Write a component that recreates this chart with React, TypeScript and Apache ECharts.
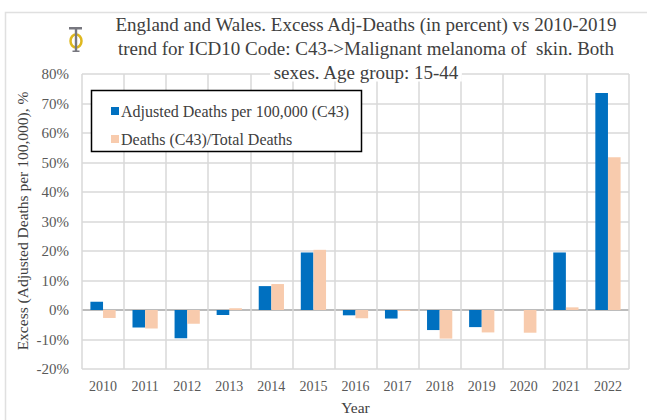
import React, { useEffect, useRef } from "react";
import * as echarts from "echarts";

const years = ["2010", "2011", "2012", "2013", "2014", "2015", "2016", "2017", "2018", "2019", "2020", "2021", "2022"];
const adjustedDeaths = [2.8, -5.9, -9.6, -1.7, 8.1, 19.5, -1.8, -2.9, -6.8, -5.8, 0, 19.5, 73.6];
const deathsRatio = [-2.7, -6.3, -4.7, 0.6, 8.8, 20.4, -2.8, -0.3, -9.7, -7.6, -7.7, 0.9, 51.8];
const seriesNames = ["Adjusted Deaths per 100,000 (C43)", "Deaths (C43)/Total Deaths"];
const titleLines = [
  "England and Wales. Excess Adj-Deaths (in percent) vs 2010-2019",
  "trend for ICD10 Code: C43->Malignant melanoma of  skin. Both",
  "sexes. Age group: 15-44",
];
const yAxisTitle = "Excess (Adjusted Deaths per 100,000), %";
const xAxisTitle = "Year";

const FONT = "Liberation Serif";

export default function App() {
  const ref = useRef<HTMLDivElement>(null);
  useEffect(() => {
    if (!ref.current) return;
    const chart = echarts.init(ref.current, null, { renderer: "svg" });
    const gridColors = ["#d9d9d9", "#d9d9d9", "#a6a6a6", "#d9d9d9", "#d9d9d9", "#d9d9d9", "#d9d9d9", "#d9d9d9", "#d9d9d9", "#d9d9d9", "#d9d9d9"];
    chart.setOption({
      animation: false,
      backgroundColor: "#ffffff",
      textStyle: { fontFamily: FONT },
      grid: { left: 82, right: 18, top: 74, bottom: 45, containLabel: false },
      legend: {
        left: 106,
        top: 98,
        orient: "vertical",
        icon: "rect",
        itemWidth: 8,
        itemHeight: 8,
        itemGap: 12,
        textStyle: { fontFamily: FONT, fontSize: 16, color: "#404040", padding: [0, 0, 0, -3] },
        data: seriesNames,
      },
      xAxis: {
        type: "category",
        data: years,
        axisLine: { show: false, onZero: false },
        axisTick: { show: false },
        splitLine: { show: true, lineStyle: { color: "#d9d9d9", width: 1.5 } },
        axisLabel: { fontFamily: FONT, fontSize: 14, color: "#595959", margin: 10 },
        name: xAxisTitle,
        nameLocation: "middle",
        nameGap: 30,
        nameTextStyle: { fontFamily: FONT, fontSize: 15.5, color: "#404040" },
      },
      yAxis: {
        type: "value",
        min: -20,
        max: 80,
        interval: 10,
        axisLine: { show: false },
        axisTick: { show: false },
        splitLine: { show: true, lineStyle: { color: gridColors, width: 1.5 } },
        axisLabel: { fontFamily: FONT, fontSize: 15, color: "#595959", margin: 13, formatter: (v: number) => `${v}%` },
      },
      series: [
        {
          name: seriesNames[0],
          type: "bar",
          data: adjustedDeaths,
          itemStyle: { color: "#0070c0" },
          barGap: "0%",
          barCategoryGap: "40%",
        },
        {
          name: seriesNames[1],
          type: "bar",
          data: deathsRatio,
          itemStyle: { color: "#f8cbad" },
          barGap: "0%",
          barCategoryGap: "40%",
        },
      ],
      graphic: [
        { type: "rect", silent: true, shape: { x: 5.5, y: 12.5, width: 680, height: 440 }, style: { fill: "none", stroke: "#e0e0e0", lineWidth: 1.5 } },
        { type: "rect", silent: true, shape: { x: 91.5, y: 90.5, width: 270, height: 61 }, style: { fill: "#ffffff", stroke: "#000000", lineWidth: 1.5 }, z: 3 },
        { type: "text", x: 366, y: 24, style: { text: titleLines[0], fontFamily: FONT, fontSize: 19, fill: "#404040", align: "center", verticalAlign: "middle" } },
        { type: "text", x: 366, y: 48, style: { text: titleLines[1], fontFamily: FONT, fontSize: 19, fill: "#404040", align: "center", verticalAlign: "middle" } },
        { type: "text", x: 366, y: 72, z: 10, style: { text: titleLines[2], fontFamily: FONT, fontSize: 19, fill: "#404040", align: "center", verticalAlign: "middle", backgroundColor: "#ffffff", padding: [0, 3] } },
        { type: "text", x: 22, y: 221, rotation: Math.PI / 2, style: { text: yAxisTitle, fontFamily: FONT, fontSize: 15.5, fill: "#404040", align: "center", verticalAlign: "middle" } },
        { type: "ellipse", shape: { cx: 76, cy: 41, rx: 5.5, ry: 6.5 }, style: { fill: "none", stroke: "#dfb81f", lineWidth: 2.5 } },
        { type: "rect", shape: { x: 69, y: 27, width: 13, height: 2.5 }, style: { fill: "#77777f" } },
        { type: "rect", shape: { x: 74.8, y: 27, width: 2.4, height: 24 }, style: { fill: "#77777f" } },
        { type: "rect", shape: { x: 72.5, y: 50.5, width: 7, height: 1.5 }, style: { fill: "#77777f" } },
      ],
    });
    return () => chart.dispose();
  }, []);
  return <div ref={ref} style={{ position: "fixed", left: 0, top: 0, width: 647, height: 420 }} />;
}
